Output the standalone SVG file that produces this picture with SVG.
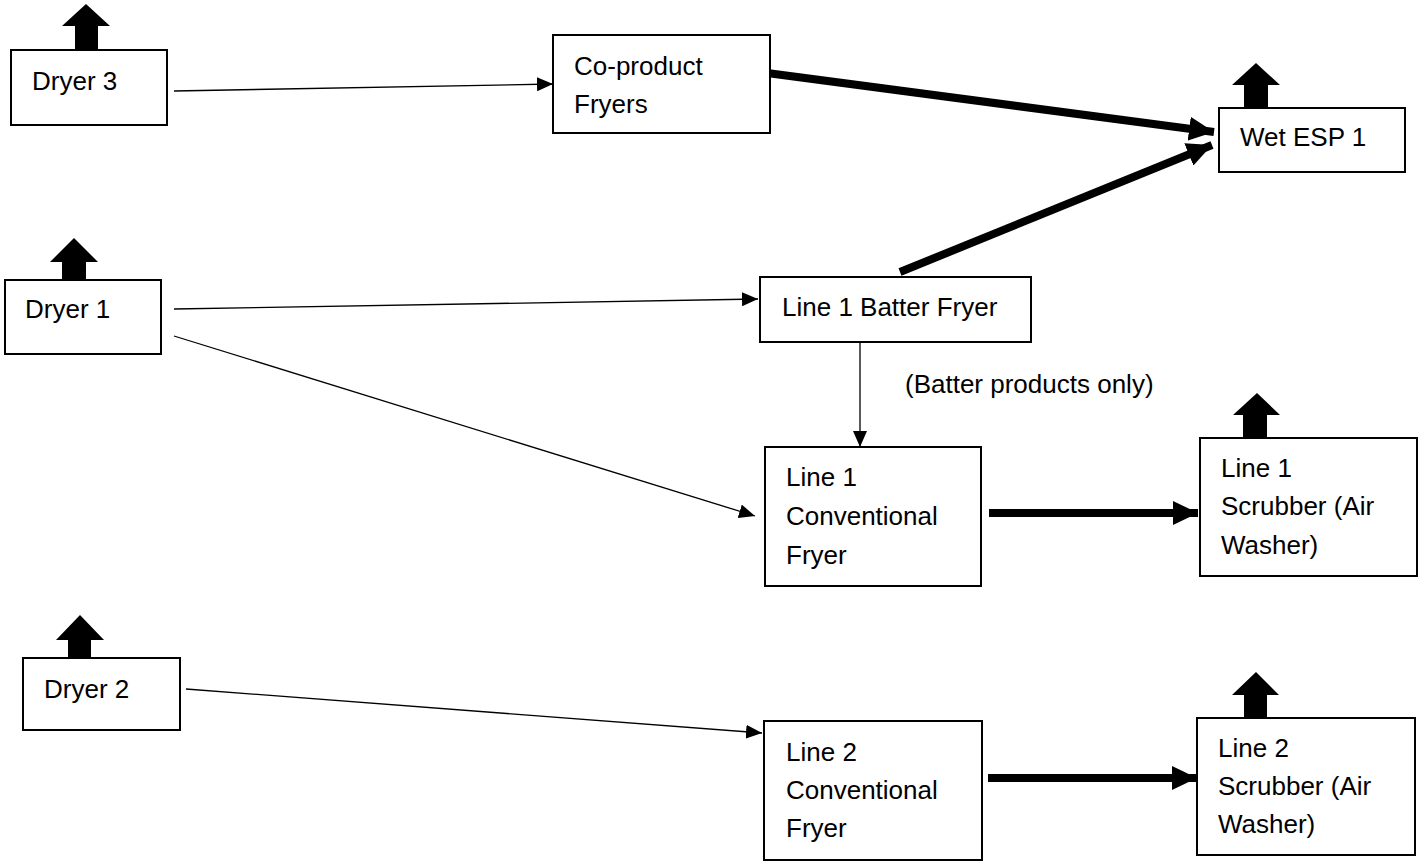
<svg xmlns="http://www.w3.org/2000/svg" width="1422" height="864" viewBox="0 0 1422 864">
<style>
.box{fill:#fff;stroke:#000;stroke-width:2}
.t{font-family:"Liberation Sans",Arial,sans-serif;font-size:26px;fill:#000}
.thin{stroke:#000;stroke-width:1.3;fill:none}
.thick{stroke:#000;stroke-width:8;fill:none}
.up{fill:#000}
</style>
<defs>
<marker id="ah" markerUnits="userSpaceOnUse" markerWidth="16" markerHeight="14" refX="16" refY="7" orient="auto"><path d="M0,0 L16,7 L0,14 Z" fill="#000"/></marker>
<marker id="ahb" markerUnits="userSpaceOnUse" markerWidth="25" markerHeight="24" refX="25" refY="12" orient="auto"><path d="M0,0 L25,12 L0,24 Z" fill="#000"/></marker>
</defs>
<g id="connectors">
<line class="thin" x1="174" y1="91" x2="553" y2="84" marker-end="url(#ah)"/>
<line class="thin" x1="174" y1="309" x2="758" y2="299" marker-end="url(#ah)"/>
<line class="thin" x1="174" y1="336" x2="755" y2="516" marker-end="url(#ah)"/>
<line class="thin" x1="860" y1="338" x2="860" y2="447" marker-end="url(#ah)"/>
<line class="thin" x1="186" y1="689" x2="762" y2="733" marker-end="url(#ah)"/>
<line class="thick" x1="767" y1="73" x2="1214" y2="132" marker-end="url(#ahb)"/>
<line class="thick" x1="900" y1="272" x2="1212" y2="145" marker-end="url(#ahb)"/>
<line class="thick" x1="989" y1="513" x2="1198" y2="513" marker-end="url(#ahb)"/>
<line class="thick" x1="988" y1="778" x2="1197" y2="778" marker-end="url(#ahb)"/>
</g>
<g id="dryer3">
<path class="up" d="M75,51 V26 H62 L86,4 L110,26 H98 V51 Z"/>
<rect class="box" x="11" y="50" width="156" height="75"/>
<text class="t" x="32" y="90">Dryer 3</text>
</g>
<g id="coproduct">
<rect class="box" x="553" y="35" width="217" height="98"/>
<text class="t" x="574" y="75">Co-product</text>
<text class="t" x="574" y="113">Fryers</text>
</g>
<g id="wetesp">
<path class="up" d="M1244,110 V85 H1232 L1256,63 L1280,85 H1268 V110 Z"/>
<rect class="box" x="1219" y="108" width="186" height="64"/>
<text class="t" x="1240" y="146">Wet ESP 1</text>
</g>
<g id="dryer1">
<path class="up" d="M62,281 V262 H50 L74,238 L98,262 H86 V281 Z"/>
<rect class="box" x="5" y="280" width="156" height="74"/>
<text class="t" x="25" y="318">Dryer 1</text>
</g>
<g id="batter">
<rect class="box" x="760" y="277" width="271" height="65"/>
<text class="t" x="782" y="316">Line 1 Batter Fryer</text>
</g>
<text class="t" x="905" y="393">(Batter products only)</text>
<g id="conv1">
<rect class="box" x="765" y="447" width="216" height="139"/>
<text class="t" x="786" y="486">Line 1</text>
<text class="t" x="786" y="525">Conventional</text>
<text class="t" x="786" y="564">Fryer</text>
</g>
<g id="scrub1">
<path class="up" d="M1243,439 V415 H1233 L1257,393 L1280,415 H1267 V439 Z"/>
<rect class="box" x="1200" y="438" width="217" height="138"/>
<text class="t" x="1221" y="477">Line 1</text>
<text class="t" x="1221" y="515">Scrubber (Air</text>
<text class="t" x="1221" y="554">Washer)</text>
</g>
<g id="dryer2">
<path class="up" d="M68,659 V640 H56 L80,615 L104,640 H91 V659 Z"/>
<rect class="box" x="23" y="658" width="157" height="72"/>
<text class="t" x="44" y="698">Dryer 2</text>
</g>
<g id="conv2">
<rect class="box" x="764" y="721" width="218" height="139"/>
<text class="t" x="786" y="761">Line 2</text>
<text class="t" x="786" y="799">Conventional</text>
<text class="t" x="786" y="837">Fryer</text>
</g>
<g id="scrub2">
<path class="up" d="M1244,719 V695 H1232 L1256,672 L1279,695 H1267 V719 Z"/>
<rect class="box" x="1197" y="718" width="218" height="137"/>
<text class="t" x="1218" y="757">Line 2</text>
<text class="t" x="1218" y="795">Scrubber (Air</text>
<text class="t" x="1218" y="833">Washer)</text>
</g>
</svg>
